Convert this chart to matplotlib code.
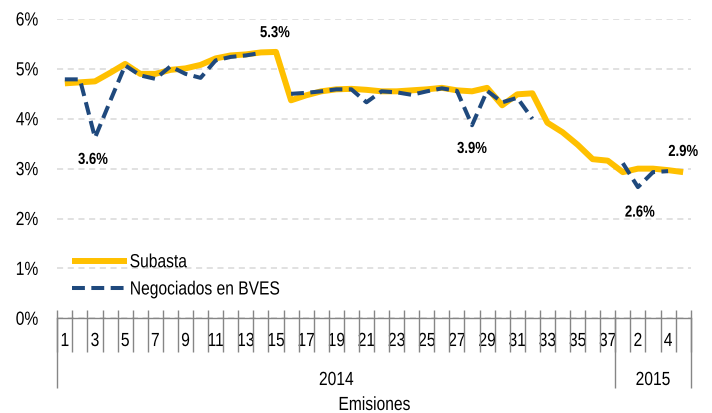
import numpy as np
import matplotlib
matplotlib.use("Agg")
import matplotlib.pyplot as plt
from matplotlib.ticker import FuncFormatter
from matplotlib import patheffects
from matplotlib.transforms import Affine2D
from matplotlib.path import Path

plt.rcParams['font.family'] = ['Liberation Sans', 'DejaVu Sans']

# emisiones por año
emision_2014 = list(range(1, 38))
emision_2015 = list(range(1, 6))
anios = ["2014", "2015"]

# tasas (%)
subasta = [4.71, 4.73, 4.75, 4.92, 5.10, 4.90, 4.90, 4.98, 5.01, 5.08,
           5.21, 5.27, 5.29, 5.33, 5.34, 4.37, 4.47, 4.55, 4.59, 4.60,
           4.58, 4.55, 4.55, 4.57, 4.59, 4.62, 4.57, 4.55, 4.62, 4.27,
           4.49, 4.51, 3.92, 3.73, 3.48, 3.19, 3.16, 2.93, 3.00, 3.00,
           2.97, 2.93]
bves = [4.79, 4.79, 3.62, 4.35, 5.07, 4.87, 4.80, 5.05, 4.90, 4.82,
        5.17, 5.24, 5.27, 5.32, np.nan, 4.50, 4.52, 4.55, 4.59, 4.59,
        4.33, 4.55, 4.53, 4.48, 4.55, 4.61, 4.56, 3.87, 4.56, 4.33,
        4.42, 4.00, np.nan, np.nan, np.nan, np.nan, np.nan, 3.11, 2.63, 2.93,
        2.95, np.nan]

# puntos con etiqueta (serie, emision global)
etiquetas = [("bves", 3), ("subasta", 15), ("bves", 28), ("bves", 39), ("subasta", 42)]

amarillo = '#FFC000'
azul = '#1F497D'
gris = '#868686'
fs = 13.7


class Estrecho(patheffects.AbstractPathEffect):
    # comprime el texto en horizontal (no hay Arial Narrow instalada)
    def __init__(self, ancla='center', factor=0.82):
        super().__init__()
        self.ancla = ancla
        self.factor = factor

    def draw_path(self, renderer, gc, tpath, affine, rgbFace=None):
        v = tpath.vertices
        if tpath.codes is not None:
            v = v[tpath.codes != Path.CLOSEPOLY]
        xs = affine.transform(v)[:, 0]
        if len(xs) == 0:
            return
        if self.ancla == 'left':
            a = xs.min()
        elif self.ancla == 'right':
            a = xs.max()
        else:
            a = (xs.min() + xs.max()) / 2
        t = affine + Affine2D().translate(-a, 0).scale(self.factor, 1).translate(a, 0)
        renderer.draw_path(gc, tpath, t, rgbFace)


fig = plt.figure(figsize=(7.12, 4.13), dpi=100)
ax = fig.add_axes([57.3/712, 1 - 318.3/413, (690.7-57.3)/712, (318.3-19)/413])

n = len(emision_2014) + len(emision_2015)
x = np.arange(1, n + 1)

ax.plot(x, subasta, color=amarillo, lw=4.3, solid_capstyle='butt', label='Subasta', zorder=3)
ax.plot(x, bves, color=azul, lw=2.9, dashes=(3.2, 1.6), label='Negociados en BVES', zorder=4)

ax.set_xlim(0.5, n + 0.5)
ax.set_ylim(0, 6)
ax.set_yticks(range(0, 7))
ax.yaxis.set_major_formatter(FuncFormatter(lambda v, _: f"{v:.0f}%"))
ax.yaxis.grid(True, color='#D9D9D9', linestyle=(0, (4, 3)), lw=1.1)
ax.set_axisbelow(True)

for s in ['top', 'right', 'left']:
    ax.spines[s].set_visible(False)
ax.spines['bottom'].set_color(gris)
ax.spines['bottom'].set_linewidth(1)

ax.tick_params(axis='y', length=0, pad=13.7, labelsize=fs)

# eje de categorias en dos niveles
nombres = emision_2014 + emision_2015
ax.set_xticks(x)
ax.set_xticklabels([str(v) if i % 2 == 1 else '' for i, v in zip(x, nombres)])
ax.tick_params(axis='x', length=0, pad=10.6, labelsize=fs)

for t in ax.get_xticklabels():
    t.set_path_effects([Estrecho('center')])
for t in ax.get_yticklabels():
    t.set_path_effects([Estrecho('right')])

xt = ax.get_xaxis_transform()
limites = np.arange(0.5, n + 1)
ax.vlines(limites, -0.1126, 0.0277, transform=xt, colors=gris, lw=1, clip_on=False)
grupos = [0.5, len(emision_2014) + 0.5, n + 0.5]
ax.vlines(grupos, -0.234, 0, transform=xt, colors=gris, lw=1, clip_on=False)
for a, g0, g1 in zip(anios, grupos[:-1], grupos[1:]):
    ax.text((g0 + g1) / 2, -0.2229, a, transform=xt, ha='center', va='baseline', fontsize=fs,
            path_effects=[Estrecho('center')])
ax.text(0.5, -0.3064, 'Emisiones', transform=ax.transAxes, ha='center', va='baseline', fontsize=fs,
        path_effects=[Estrecho('center')])

# etiquetas de datos
series = {"subasta": subasta, "bves": bves}
desp = {3: (-1.4, -15.6), 15: (-0.7, 13.9), 28: (0, -16.7), 39: (1.4, -18), 42: (0, 14.9)}
for nombre, i in etiquetas:
    v = series[nombre][i - 1]
    ax.annotate(f"{v:.1f}%", (i, v), xytext=desp[i], textcoords='offset points',
                ha='center', va='center', fontsize=11.5, fontweight='bold',
                path_effects=[Estrecho('center')])

leg = ax.legend(loc='upper left', bbox_to_anchor=(0.0227, 0.215), frameon=False, fontsize=fs,
                handlelength=2.9, handletextpad=0.14, labelspacing=0.52, borderpad=0, borderaxespad=0)
for t in leg.get_texts():
    t.set_path_effects([Estrecho('left')])

fig.savefig('out.png', dpi=100)
